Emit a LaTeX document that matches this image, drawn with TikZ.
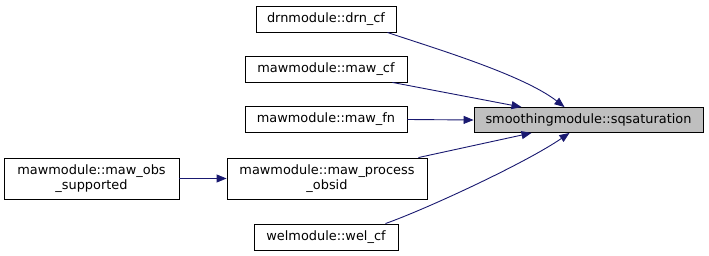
\documentclass[tikz,border=0pt]{standalone}
\usepackage{fontspec}
\setmainfont{DejaVu Sans}
\usetikzlibrary{arrows.meta}
\definecolor{edgeblue}{HTML}{191970}
\definecolor{hilite}{HTML}{BFBFBF}
\begin{document}
\begin{tikzpicture}[x=1pt,y=-1pt,
  fn/.style={draw=black, fill=white, line width=0.9pt, inner sep=0pt,
    align=center, font=\fontsize{12.9}{14.5}\selectfont},
  caller/.style={draw=edgeblue, line width=0.9pt,
    -{Triangle[length=10pt,width=8pt]}}]
  \useasboundingbox (0,0) rectangle (709,256);

  % functions
  \node[fn, minimum width=140pt, minimum height=26pt] (drn) at (326,19) {drnmodule::drn\_cf};
  \node[fn, minimum width=162pt, minimum height=26pt] (mcf) at (326,69) {mawmodule::maw\_cf};
  \node[fn, minimum width=162pt, minimum height=26pt] (mfn) at (326,119.5) {mawmodule::maw\_fn};
  \node[fn, fill=hilite, minimum width=229pt, minimum height=25pt] (sq) at (588.5,120) {smoothingmodule::sqsaturation};
  \node[fn, minimum width=175pt, minimum height=41pt] (obs) at (91.5,178.5) {mawmodule::maw\_obs\\\_supported};
  \node[fn, minimum width=200pt, minimum height=41pt] (proc) at (327,178.5) {mawmodule::maw\_process\\\_obsid};
  \node[fn, minimum width=144pt, minimum height=26pt] (wel) at (326,237) {welmodule::wel\_cf};

  % call edges
  \draw[caller] ([xshift=-9pt]drn.south east) .. controls (430,47) and (522,74) .. ([xshift=-24pt]sq.north);
  \draw[caller] ([xshift=-15pt]mcf.south east) -- ([xshift=-67pt]sq.north);
  \draw[caller] (mfn.east) -- (sq.west);
  \draw[caller] ([xshift=-9pt]proc.north east) -- ([xshift=-57pt]sq.south);
  \draw[caller] ([xshift=-13pt]wel.north east) .. controls (424,210) and (524,164) .. ([xshift=-19pt]sq.south);
  \draw[caller] (obs.east) -- (proc.west);
\end{tikzpicture}
\end{document}
